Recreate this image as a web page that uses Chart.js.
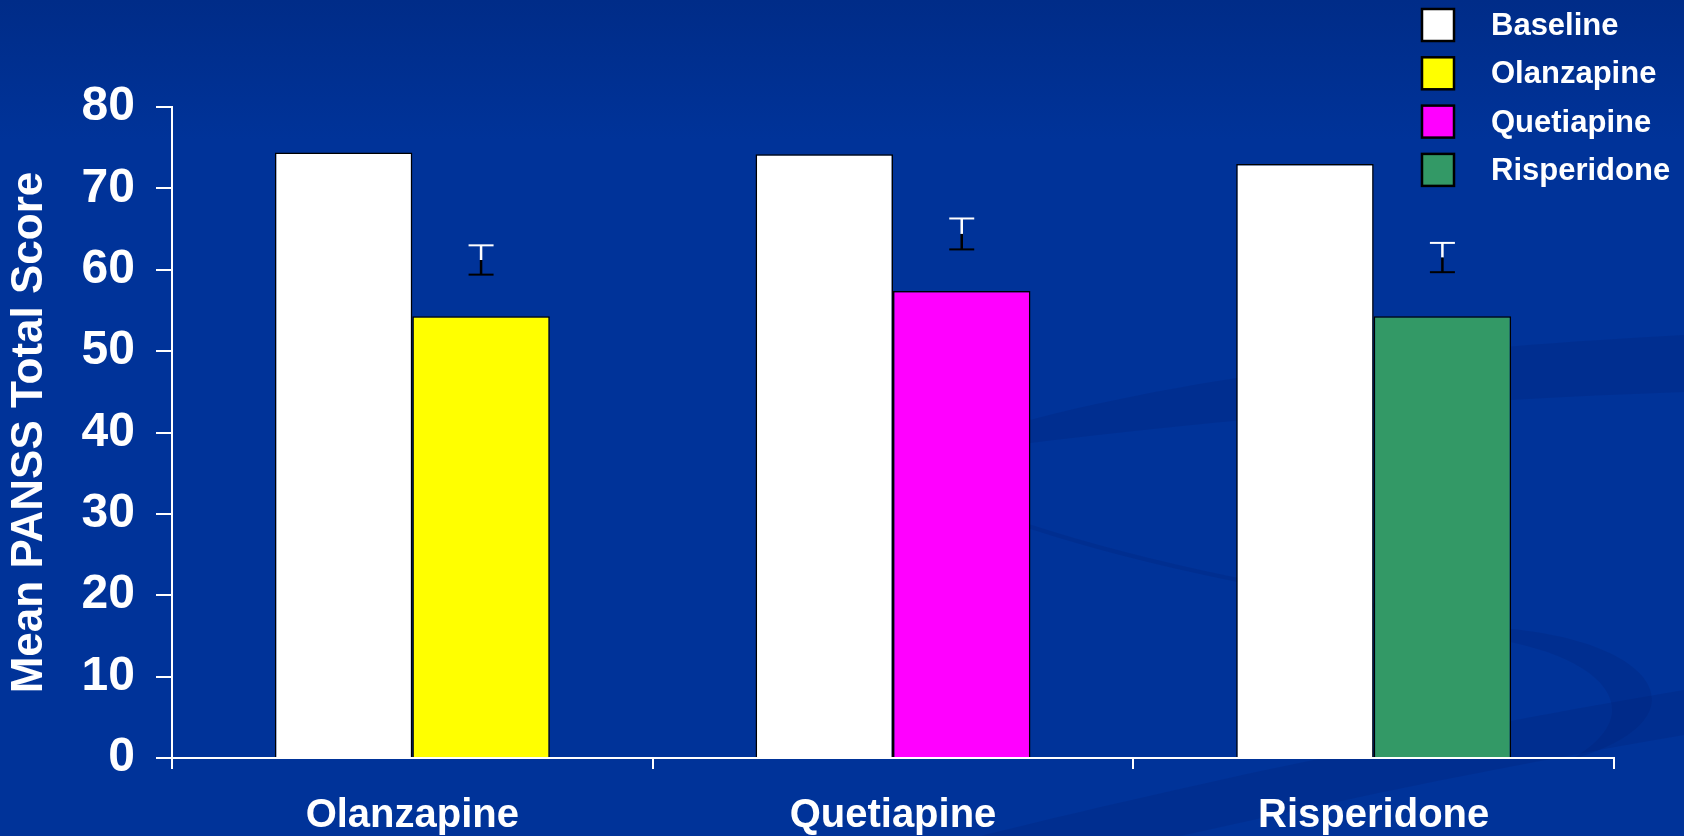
<!DOCTYPE html>
<html>
<head>
<meta charset="utf-8">
<title>Mean PANSS Total Score</title>
<script src="https://cdn.jsdelivr.net/npm/chart.js"></script>
<style>
  html, body { margin: 0; padding: 0; background: #003399; }
  canvas { display: block; }
</style>
</head>
<body>
<canvas id="panss" width="1684" height="836"></canvas>
<script>
// groups along the x axis
var groups = ['Olanzapine', 'Quetiapine', 'Risperidone'];
// mean PANSS total score at baseline for each group
var baseline = [74.4, 74.2, 73.0];
// mean score after treatment, one drug per group
var olanzapine = [54.3, null, null];
var quetiapine = [null, 57.4, null];
var risperidone = [null, null, 54.3];
// error bars drawn above the treatment bars (centre +/- half range)
var errCentre = [61.2, 64.4, 61.5];
var errHalf = [1.8, 1.9, 1.8];
// y axis ticks
var yTicks = [0, 10, 20, 30, 40, 50, 60, 70, 80];

var FONT = 'Arial, "Liberation Sans", sans-serif';
Chart.defaults.font.family = FONT;
Chart.defaults.color = '#ffffff';

// slide background with the faint darker swooshes
var slideBackground = {
    id: 'slideBackground',
    beforeDraw: function (chart) {
        var ctx = chart.ctx;
        var w = chart.width, h = chart.height;
        ctx.save();
        var grad = ctx.createLinearGradient(0, 0, 0, 140);
        grad.addColorStop(0, '#002c88');
        grad.addColorStop(1, '#003399');
        ctx.fillStyle = grad;
        ctx.fillRect(0, 0, w, h);

        ctx.fillStyle = 'rgba(0, 30, 110, 0.2)';
        // upper band rising to the right
        ctx.beginPath();
        ctx.moveTo(960, 440);
        ctx.bezierCurveTo(1150, 380, 1400, 350, 1684, 335);
        ctx.lineTo(1684, 392);
        ctx.bezierCurveTo(1450, 400, 1200, 420, 960, 452);
        ctx.closePath();
        ctx.fill();

        // thin curve ending in a crescent on the right
        ctx.strokeStyle = 'rgba(0, 30, 110, 0.2)';
        ctx.lineWidth = 4;
        ctx.beginPath();
        ctx.moveTo(1010, 520);
        ctx.bezierCurveTo(1200, 585, 1400, 605, 1500, 630);
        ctx.stroke();
        ctx.beginPath();
        ctx.moveTo(1500, 628);
        ctx.bezierCurveTo(1660, 640, 1710, 720, 1570, 760);
        ctx.bezierCurveTo(1650, 715, 1610, 660, 1500, 640);
        ctx.closePath();
        ctx.fill();

        // lower band along the bottom right
        ctx.beginPath();
        ctx.moveTo(980, 836);
        ctx.bezierCurveTo(1250, 770, 1450, 730, 1684, 690);
        ctx.lineTo(1684, 735);
        ctx.bezierCurveTo(1480, 770, 1320, 805, 1180, 836);
        ctx.closePath();
        ctx.fill();
        ctx.restore();
    }
};

// legend in the top right corner, drawn from the datasets
var cornerLegend = {
    id: 'cornerLegend',
    afterDraw: function (chart) {
        var ctx = chart.ctx;
        ctx.save();
        ctx.font = 'bold 31px ' + FONT;
        ctx.textAlign = 'left';
        ctx.textBaseline = 'alphabetic';
        chart.data.datasets.forEach(function (ds, i) {
            var top = 9 + i * 48.3;
            ctx.fillStyle = ds.backgroundColor;
            ctx.fillRect(1422, top, 32, 32);
            ctx.strokeStyle = '#000000';
            ctx.lineWidth = 2.5;
            ctx.strokeRect(1422, top, 32, 32);
            ctx.fillStyle = '#ffffff';
            ctx.fillText(ds.label, 1491, top + 26);
        });
        ctx.restore();
    }
};

// error bars: white upper half, black lower half
var errorBars = {
    id: 'errorBars',
    afterDatasetsDraw: function (chart) {
        var ctx = chart.ctx;
        var y = chart.scales.y;
        ctx.save();
        groups.forEach(function (g, i) {
            var el = chart.getDatasetMeta(i + 1).data[i];
            if (!el) return;
            var x = el.x;
            var yTop = y.getPixelForValue(errCentre[i] + errHalf[i]);
            var yMid = y.getPixelForValue(errCentre[i]);
            var yBot = y.getPixelForValue(errCentre[i] - errHalf[i]);
            ctx.lineWidth = 2.5;
            ctx.strokeStyle = '#ffffff';
            ctx.beginPath();
            ctx.moveTo(x, yTop);
            ctx.lineTo(x, yMid);
            ctx.stroke();
            ctx.lineWidth = 2;
            ctx.beginPath();
            ctx.moveTo(x - 12.5, yTop);
            ctx.lineTo(x + 12.5, yTop);
            ctx.stroke();
            ctx.strokeStyle = '#000000';
            ctx.lineWidth = 2.5;
            ctx.beginPath();
            ctx.moveTo(x, yMid);
            ctx.lineTo(x, yBot);
            ctx.stroke();
            ctx.lineWidth = 2;
            ctx.beginPath();
            ctx.moveTo(x - 12.5, yBot);
            ctx.lineTo(x + 12.5, yBot);
            ctx.stroke();
        });
        ctx.restore();
    }
};

function barSet(label, values, colour) {
    return {
        label: label,
        data: values,
        backgroundColor: colour,
        borderColor: '#000000',
        borderWidth: 1.5,
        skipNull: true,
        categoryPercentage: 0.572,
        barPercentage: 1.0
    };
}

var ctx = document.getElementById('panss').getContext('2d');
new Chart(ctx, {
    type: 'bar',
    data: {
        labels: groups,
        datasets: [
            barSet('Baseline', baseline, '#ffffff'),
            barSet('Olanzapine', olanzapine, '#ffff00'),
            barSet('Quetiapine', quetiapine, '#ff00ff'),
            barSet('Risperidone', risperidone, '#339966')
        ]
    },
    options: {
        responsive: false,
        animation: false,
        devicePixelRatio: 1,
        layout: {
            padding: { top: 107, right: 70, bottom: 0, left: 0 }
        },
        plugins: {
            legend: { display: false },
            tooltip: { enabled: false }
        },
        scales: {
            x: {
                afterFit: function (scale) { scale.height = 78; },
                border: { color: '#ffffff', width: 2 },
                grid: {
                    offset: true,
                    drawOnChartArea: false,
                    color: '#ffffff',
                    lineWidth: 2,
                    tickLength: 11
                },
                ticks: {
                    color: '#ffffff',
                    padding: 27,
                    font: { size: 40, weight: 'bold', lineHeight: 1 }
                }
            },
            y: {
                min: yTicks[0],
                max: yTicks[yTicks.length - 1],
                afterFit: function (scale) { scale.width = 172; },
                border: { color: '#ffffff', width: 2 },
                grid: {
                    drawOnChartArea: false,
                    color: '#ffffff',
                    lineWidth: 2,
                    tickLength: 16
                },
                ticks: {
                    stepSize: yTicks[1] - yTicks[0],
                    color: '#ffffff',
                    padding: 21,
                    font: { size: 48, weight: 'bold', lineHeight: 1 }
                },
                title: {
                    display: true,
                    text: 'Mean PANSS Total Score',
                    color: '#ffffff',
                    padding: { top: 8, bottom: 0 },
                    font: { size: 44, weight: 'bold', lineHeight: 1 }
                }
            }
        }
    },
    plugins: [slideBackground, errorBars, cornerLegend]
});
</script>
</body>
</html>
